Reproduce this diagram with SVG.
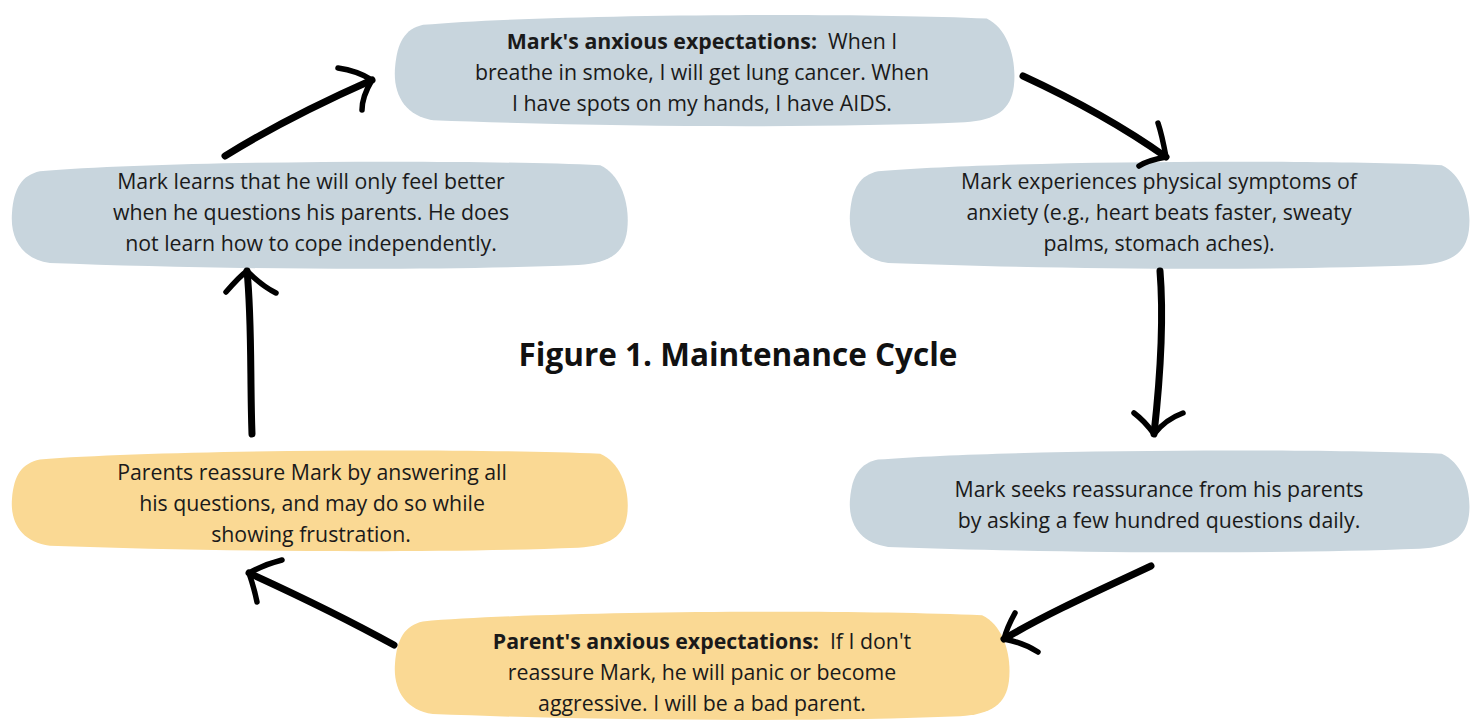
<svg xmlns="http://www.w3.org/2000/svg" width="1477" height="722" viewBox="0 0 1477 722">
<style>
.blue{fill:#c8d5dd}
.yellow{fill:#fad994}
.t{font-family:"Open Sans","Noto Sans",sans-serif;font-size:21.3px;fill:#1a1a1a;text-anchor:middle}
.b{font-weight:bold}
.title{font-family:"Open Sans","Noto Sans",sans-serif;font-size:31.5px;font-weight:bold;fill:#111;text-anchor:middle}
.arrow{fill:none;stroke:#000;stroke-width:7;stroke-linecap:round;stroke-linejoin:round}
.head{fill:none;stroke:#000;stroke-width:5.5;stroke-linecap:round;stroke-linejoin:round}
</style>
<defs>
<path id="blob" d="M 30,14 C 150,4 450,2 592,8 C 614,18 622,48 619,72 C 616,94 602,104 570,106 C 420,112 200,110 40,104 C 12,100 0,80 2,55 C 4,30 12,18 30,14 Z"/>
</defs>
<g id="node-top">
<use href="#blob" class="blue" transform="translate(393,10) scale(1.003,1.06)"/>
<text class="t" x="702" y="49"><tspan class="b">Mark's anxious expectations:</tspan><tspan dx="11">When I</tspan></text>
<text class="t" x="702" y="80">breathe in smoke, I will get lung cancer. When</text>
<text class="t" x="702" y="111">I have spots on my hands, I have AIDS.</text>
</g>
<g id="node-right-mid">
<use href="#blob" class="blue" transform="translate(848,157) scale(1.003,1.02)"/>
<text class="t" x="1159" y="189">Mark experiences physical symptoms of</text>
<text class="t" x="1159" y="220">anxiety (e.g., heart beats faster, sweaty</text>
<text class="t" x="1159" y="251">palms, stomach aches).</text>
</g>
<g id="node-right-low">
<use href="#blob" class="blue" transform="translate(848,446) scale(1.003,0.97)"/>
<text class="t" x="1159" y="497">Mark seeks reassurance from his parents</text>
<text class="t" x="1159" y="528">by asking a few hundred questions daily.</text>
</g>
<g id="node-bottom">
<use href="#blob" class="yellow" transform="translate(393,607) scale(0.995,1.03)"/>
<text class="t" x="702" y="649"><tspan class="b">Parent's anxious expectations:</tspan><tspan dx="11">If I don't</tspan></text>
<text class="t" x="702" y="680">reassure Mark, he will panic or become</text>
<text class="t" x="702" y="711">aggressive. I will be a bad parent.</text>
</g>
<g id="node-left-low">
<use href="#blob" class="yellow" transform="translate(10,446) scale(0.997,0.96)"/>
<text class="t" x="312" y="480">Parents reassure Mark by answering all</text>
<text class="t" x="312" y="511">his questions, and may do so while</text>
<text class="t" x="311" y="542">showing frustration.</text>
</g>
<g id="node-left-mid">
<use href="#blob" class="blue" transform="translate(10,157) scale(0.997,1.02)"/>
<text class="t" x="311" y="189">Mark learns that he will only feel better</text>
<text class="t" x="311" y="220">when he questions his parents. He does</text>
<text class="t" x="311" y="251">not learn how to cope independently.</text>
</g>
<text class="title" x="738" y="366">Figure 1. Maintenance Cycle</text>
<g id="connectors">
<path class="arrow" d="M 225,156 C 270,128 320,103 372,80"/>
<path class="head" d="M 338,68 C 352,70 364,75 372,80 C 366,90 362,100 362,110"/>
<path class="arrow" d="M 1023,76 C 1075,100 1125,128 1166,157"/>
<path class="head" d="M 1158,123 C 1162,135 1164,146 1166,157 C 1155,159 1145,162 1139,166"/>
<path class="arrow" d="M 1160,271 C 1164,320 1160,380 1154,434"/>
<path class="head" d="M 1134,413 C 1142,419 1149,427 1154,434 C 1162,424 1172,417 1183,413"/>
<path class="arrow" d="M 1151,566 C 1100,590 1050,612 1004,639"/>
<path class="head" d="M 1015,613 C 1010,622 1006,631 1004,639 C 1015,641 1027,645 1038,652"/>
<path class="arrow" d="M 394,645 C 345,618 295,594 249,573"/>
<path class="head" d="M 282,560 C 270,563 258,568 249,573 C 252,582 255,592 257,602"/>
<path class="arrow" d="M 252,434 C 250,380 252,320 247,271"/>
<path class="head" d="M 226,292 C 233,284 240,276 247,271 C 256,280 266,288 276,293"/>
</g>
</svg>
